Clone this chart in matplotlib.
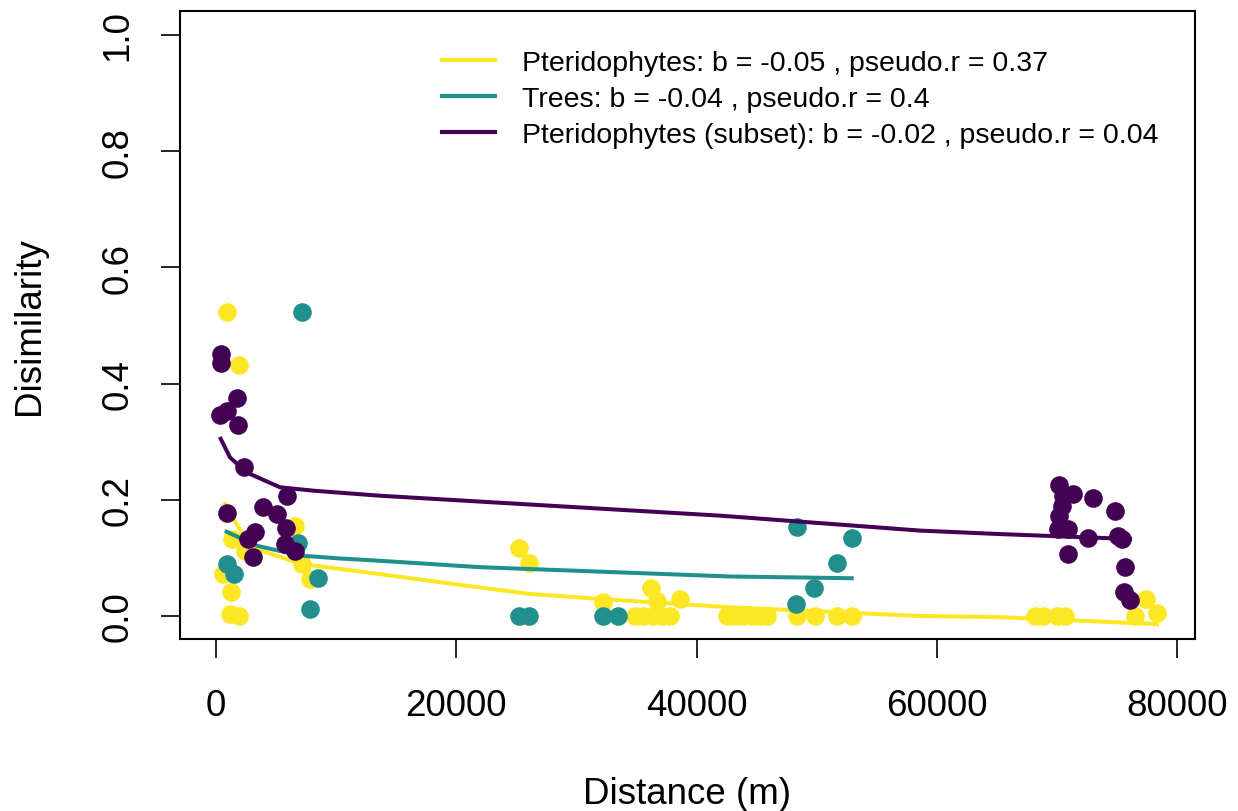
import matplotlib
matplotlib.use("Agg")
import matplotlib.pyplot as plt
from matplotlib.lines import Line2D

plt.rcParams['font.family'] = ['Liberation Sans', 'DejaVu Sans']

# ---- data ----
pter_x = [890, 1940, 6576, 1304, 2414, 7130, 7825, 610, 1220, 1165, 1940,
          25250, 26080, 32240, 34880, 35570, 36400, 37100, 37790,
          36180, 36680, 38620, 42510, 43200, 43900, 44600, 45290, 45840,
          48340, 49860, 51670, 52920, 68180, 68870, 69980, 70670,
          76500, 77420, 78360]
pter_y = [0.524, 0.432, 0.155, 0.1325, 0.112, 0.0895, 0.064, 0.072, 0.042, 0.003, 0.0,
          0.117, 0.092, 0.024, 0.0, 0.0, 0.0, 0.0, 0.0,
          0.049, 0.026, 0.029, 0.0, 0.0, 0.0, 0.0, 0.0, 0.0,
          0.0, 0.0, 0.0, 0.0, 0.0, 0.0, 0.0, 0.0,
          0.0, 0.029, 0.005]

tree_x = [7186, 943, 1498, 6850, 8518, 7825, 25250, 26080, 32240, 33490,
          48390, 52920, 51720, 49800, 48280]
tree_y = [0.524, 0.0895, 0.072, 0.125, 0.065, 0.012, 0.0, 0.0, 0.0, 0.0,
          0.153, 0.135, 0.092, 0.048, 0.021]

sub_x = [416, 416, 1775, 333, 890, 1806, 2360, 5937, 943, 3884, 5050, 5827,
         3246, 2690, 3107, 5744, 6576,
         70200, 71370, 70530, 73030, 70390, 74840, 70200, 70120, 70950,
         72620, 75110, 75400, 70950, 75670, 75590, 76090]
sub_y = [0.451, 0.435, 0.375, 0.346, 0.352, 0.328, 0.256, 0.207, 0.177, 0.187, 0.1756, 0.151,
         0.144, 0.1325, 0.101, 0.124, 0.112,
         0.2255, 0.21, 0.207, 0.2026, 0.19, 0.181, 0.1727, 0.15, 0.15,
         0.135, 0.138, 0.1325, 0.107, 0.084, 0.041, 0.028]

# fitted curves
pter_fit_x = [750, 1855, 2970, 7000, 13650, 21976, 26138, 32215, 42786, 58603, 65263, 78332]
pter_fit_y = [0.193, 0.153, 0.118, 0.090, 0.072, 0.049, 0.038, 0.029, 0.015, 0.0, -0.002, -0.014]
tree_fit_x = [890, 3388, 6992, 10322, 13652, 21976, 42786, 52917]
tree_fit_y = [0.145, 0.121, 0.104, 0.099, 0.095, 0.084, 0.068, 0.065]
sub_fit_x = [391, 1165, 2556, 5328, 8100, 13652, 41955, 58603, 65263, 76085]
sub_fit_y = [0.305, 0.273, 0.247, 0.2215, 0.2157, 0.207, 0.1727, 0.147, 0.141, 0.1325]

labels = ["Pteridophytes: b = -0.05 , pseudo.r = 0.37",
          "Trees: b = -0.04 , pseudo.r = 0.4",
          "Pteridophytes (subset): b = -0.02 , pseudo.r = 0.04"]
colors = ["#FDE725", "#21908C", "#440154"]

xticks = [0, 20000, 40000, 60000, 80000]
yticks = [0.0, 0.2, 0.4, 0.6, 0.8, 1.0]

# ---- figure ----
W, H = 1238, 812
fig = plt.figure(figsize=(W / 100, H / 100), dpi=100)
ax = fig.add_axes([180 / W, 1 - 640 / H, (1195 - 180) / W, (640 - 12) / H])

ms = 180
lw = 2.9
ax.scatter(pter_x, pter_y, s=ms, color=colors[0], linewidths=0, zorder=2)
ax.plot(pter_fit_x, pter_fit_y, color=colors[0], lw=lw, zorder=3)
ax.scatter(tree_x, tree_y, s=ms, color=colors[1], linewidths=0, zorder=4)
ax.plot(tree_fit_x, tree_fit_y, color=colors[1], lw=lw, zorder=5)
ax.scatter(sub_x, sub_y, s=ms, color=colors[2], linewidths=0, zorder=6)
ax.plot(sub_fit_x, sub_fit_y, color=colors[2], lw=lw, zorder=7)

ax.set_xlim(-2997, 81496)
ax.set_ylim(-0.0396, 1.0413)
ax.set_xticks(xticks)
ax.set_xticklabels([str(t) for t in xticks])
ax.set_yticks(yticks)
ax.set_yticklabels([f"{t:.1f}" for t in yticks], rotation=90, va='center')
ax.tick_params(axis='both', labelsize=26.5, length=14, width=1.2, direction='out')
ax.tick_params(axis='x', pad=21)
ax.tick_params(axis='y', pad=18)
for s in ax.spines.values():
    s.set_linewidth(1.5)
    s.set_color('black')

fig.text(687 / W, 1 - 795 / H, "Distance (m)", ha='center', va='center', fontsize=26.5)
fig.text(30 / W, 1 - 326 / H, "Disimilarity", ha='center', va='center', fontsize=26.5, rotation=90)

handles = [Line2D([0], [0], color=c, lw=3) for c in colors]
leg = ax.legend(handles, labels, loc='upper left', bbox_to_anchor=(442 / W, 1 - 51 / H),
                bbox_transform=fig.transFigure, frameon=False, fontsize=20.5,
                handlelength=1.86, handletextpad=0.95, labelspacing=0.35,
                borderpad=0, borderaxespad=0)

fig.savefig("out.png", dpi=100)
